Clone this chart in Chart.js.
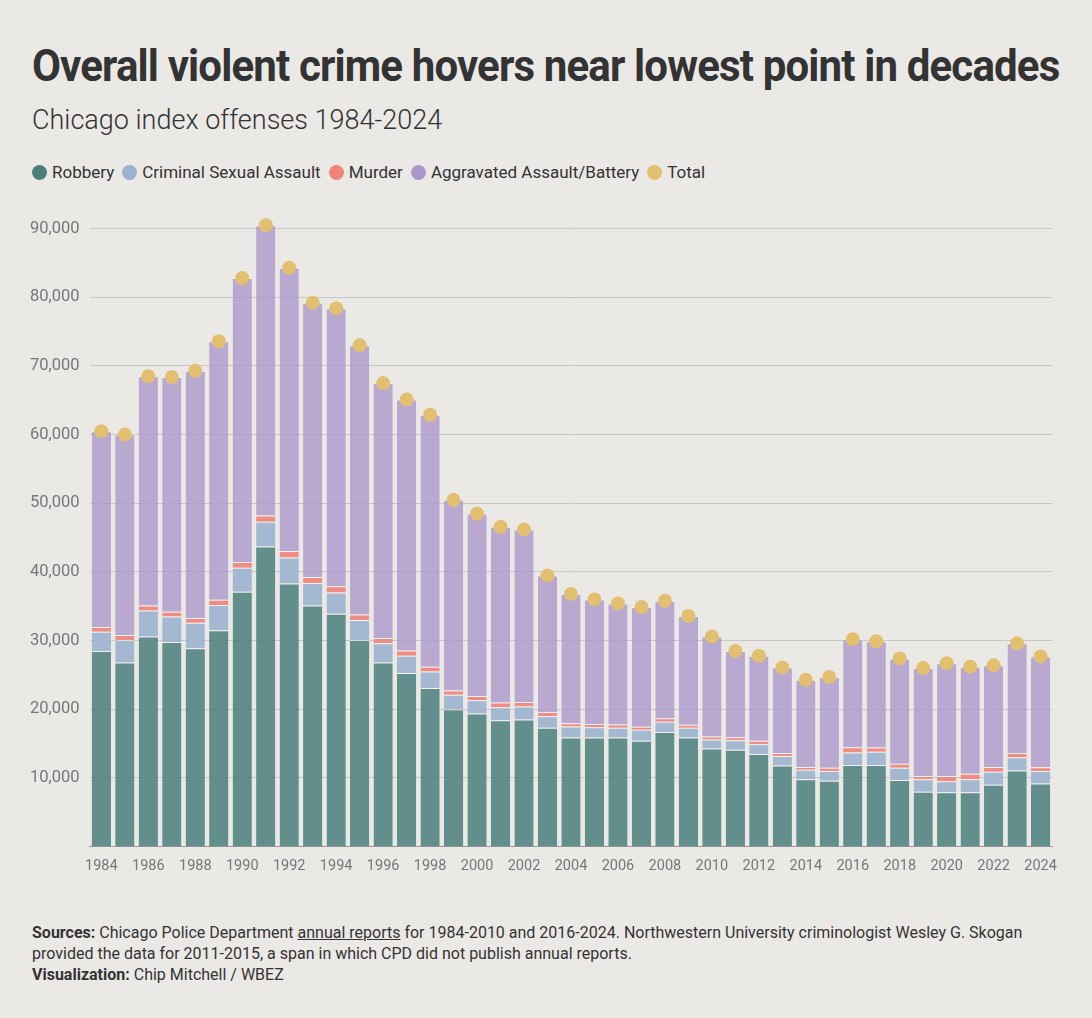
<!DOCTYPE html>
<html>
<head>
<meta charset="utf-8">
<script src="https://cdn.jsdelivr.net/npm/chart.js@4/dist/chart.umd.min.js"></script>
<style>
  body { margin: 0; background: #ebe9e6; font-family: Roboto, sans-serif; color: #333; }
  .wrap { position: relative; width: 1092px; height: 1018px; }
  h1 { position: absolute; left: 32px; top: 40px; margin: 0; font-size: 44px; font-weight: 700; letter-spacing: -0.9px; color: #333; transform: scaleX(0.955); transform-origin: left; white-space: nowrap; }
  .sub { position: absolute; left: 32px; top: 104px; font-size: 27px; font-weight: 300; color: #333; }
  .legend { position: absolute; left: 32px; top: 162px; font-size: 17px; display: flex; gap: 8px; }
  .legend span { display: inline-flex; align-items: center; }
  .legend i { width: 15px; height: 15px; border-radius: 50%; display: inline-block; margin-right: 5px; }
  .chart { position: absolute; left: 20px; top: 195px; width: 1040px; height: 683px; }
  .src { position: absolute; left: 32px; top: 922px; width: 1045px; font-size: 16px; line-height: 21px; color: #333; }
  .src u { text-decoration: underline; }
</style>
</head>
<body>
<div class="wrap">
  <h1>Overall violent crime hovers near lowest point in decades</h1>
  <div class="sub">Chicago index offenses 1984-2024</div>
  <div class="legend">
    <span><i style="background:#4a7f7b"></i>Robbery</span>
    <span><i style="background:#9db2cf"></i>Criminal Sexual Assault</span>
    <span><i style="background:#f0837a"></i>Murder</span>
    <span><i style="background:#ad98cc"></i>Aggravated Assault/Battery</span>
    <span><i style="background:#e2c06f"></i>Total</span>
  </div>
  <div class="chart"><canvas id="c"></canvas></div>
  <div class="src"><b>Sources:</b> Chicago Police Department <u>annual reports</u> for 1984-2010 and 2016-2024. Northwestern University criminologist Wesley G. Skogan provided the data for 2011-2015, a span in which CPD did not publish annual reports.<br><b>Visualization:</b> Chip Mitchell / WBEZ</div>
</div>
<script>
const years = [];
for (let y = 1984; y <= 2024; y++) years.push(String(y));

const robbery = [28500,26800,30600,29800,28900,31500,37100,43700,38300,35100,33900,30100,26800,25300,23100,20000,19400,18400,18500,17300,15900,15900,15900,15400,16700,15900,14300,14100,13500,11800,9800,9600,11900,11900,9700,8000,7900,7900,9000,11100,9200];
const sexualAssault = [2800,3300,3800,3700,3700,3700,3500,3600,3800,3300,3100,2900,2800,2500,2400,2100,1900,1900,1900,1700,1600,1500,1400,1600,1500,1400,1300,1400,1400,1400,1400,1400,1800,1900,1800,1800,1600,1900,1900,1900,1800];
const murder = [700,700,700,700,700,750,850,930,940,850,930,820,790,760,700,640,630,670,650,600,450,450,470,440,510,460,440,430,500,420,410,480,760,650,560,490,770,800,700,620,570];
const aggAssault = [28500,29200,33400,34200,36000,37650,41350,42270,41260,39950,40470,39180,37110,36540,36700,27760,26570,25630,25150,19900,18850,18150,17630,17460,17090,15840,14560,12570,12400,12480,12690,13220,15740,15450,15340,15710,16430,15600,14800,15980,16130];
const total = [60500,60000,68500,68400,69300,73600,82800,90500,84300,79200,78400,73000,67500,65100,62900,50500,48500,46600,46200,39500,36800,36000,35400,34900,35800,33600,30600,28500,27800,26100,24300,24700,30200,29900,27400,26000,26700,26200,26400,29600,27700];
const yTicks = [10000,20000,30000,40000,50000,60000,70000,80000,90000];

const bar = (label, data, color) => ({
  type: 'bar', label, data, backgroundColor: color, stack: 's',
  borderColor: 'rgba(255,255,255,0.35)', borderWidth: {top: 1}, borderSkipped: false,
  categoryPercentage: 0.82, barPercentage: 1, order: 2
});

new Chart(document.getElementById('c'), {
  data: {
    labels: years,
    datasets: [
      { type: 'line', label: 'Total', data: total, showLine: false, pointRadius: 7, pointHoverRadius: 7,
        pointBackgroundColor: '#e2c06f', pointBorderWidth: 0, order: 1 },
      bar('Robbery', robbery, 'rgba(74,127,123,0.85)'),
      bar('Criminal Sexual Assault', sexualAssault, 'rgba(157,178,207,0.9)'),
      bar('Murder', murder, 'rgba(240,131,122,0.9)'),
      bar('Aggravated Assault/Battery', aggAssault, 'rgba(173,152,204,0.8)')
    ]
  },
  options: {
    responsive: true, maintainAspectRatio: false, animation: false,
    plugins: { legend: { display: false }, tooltip: { enabled: false } },
    layout: { padding: { right: 0, top: 0 } },
    scales: {
      x: {
        stacked: true, offset: true,
        grid: { display: false, drawTicks: true },
        border: { color: '#999' },
        ticks: {
          autoSkip: false, maxRotation: 0, color: '#777', font: { family: 'Roboto', size: 14.5 },
          callback: (v, i) => (i % 2 === 0 ? years[i] : '')
        }
      },
      y: {
        stacked: true, min: 0, max: 92000,
        afterBuildTicks: s => { s.ticks = yTicks.map(v => ({ value: v })); },
        grid: { color: '#c9c6c3', drawTicks: false },
        border: { display: false },
        ticks: { color: '#777', padding: 10, font: { family: 'Roboto', size: 16.5 },
          callback: v => v.toLocaleString('en-US') }
      }
    }
  }
});
</script>
</body>
</html>
